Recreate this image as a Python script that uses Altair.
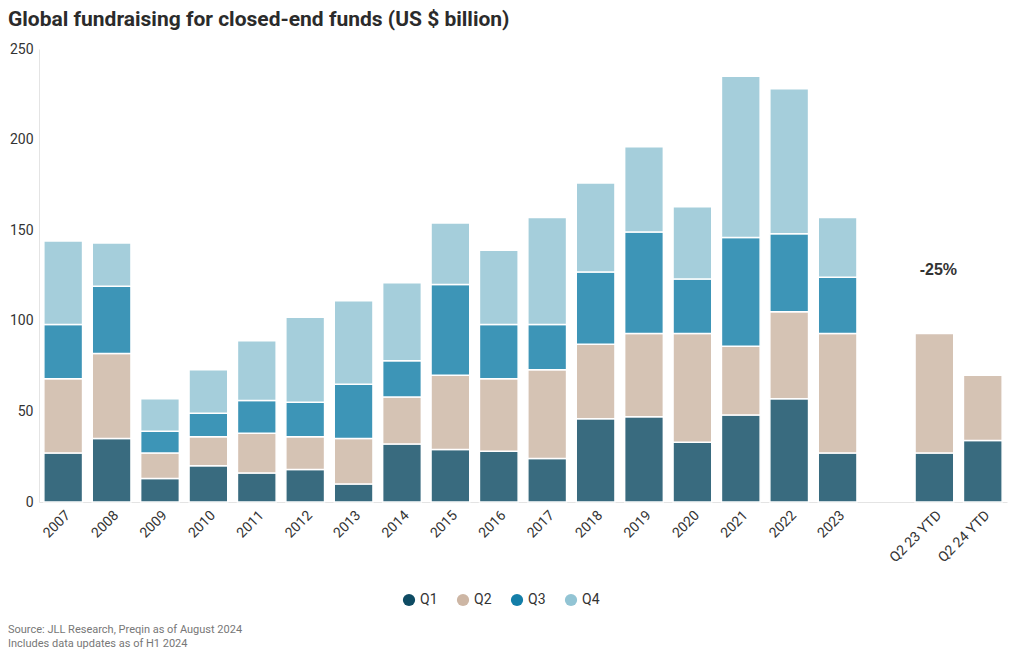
import altair as alt
import pandas as pd

periods = ["2007", "2008", "2009", "2010", "2011", "2012", "2013", "2014", "2015",
           "2016", "2017", "2018", "2019", "2020", "2021", "2022", "2023", " ",
           "Q2 23 YTD", "Q2 24 YTD"]
q1 = [27, 35, 13, 20, 16, 18, 10, 32, 29, 28, 24, 46, 47, 33, 48, 57, 27, None, 27, 34]
q2 = [41, 47, 14, 16, 22, 18, 25, 26, 41, 40, 49, 41, 46, 60, 38, 48, 66, None, 66, 36]
q3 = [30, 37, 12, 13, 18, 19, 30, 20, 50, 30, 25, 40, 56, 30, 60, 43, 31, None, None, None]
q4 = [46, 24, 18, 24, 33, 47, 46, 43, 34, 41, 59, 49, 47, 40, 89, 80, 33, None, None, None]
quarters = ["Q1", "Q2", "Q3", "Q4"]
colors = ["#0e4b63", "#cdb6a4", "#137ea8", "#92c4d4"]

annot_label = ["-25%"]
annot_period = ["Q2 23 YTD"]
annot_value = [128]

footer_lines = ["Source: JLL Research, Preqin as of August 2024",
                "Includes data updates as of H1 2024"]

rows = []
for i, p in enumerate(periods):
    for qi, (q, series) in enumerate(zip(quarters, [q1, q2, q3, q4])):
        v = series[i]
        if v is not None:
            rows.append({"period": p, "quarter": q, "qi": qi, "value": v})
df = pd.DataFrame(rows)

W, H = 968, 453
FONT = "Roboto"

x_enc = alt.X("period:N", sort=periods,
              scale=alt.Scale(domain=periods, paddingInner=0.2, paddingOuter=0.1),
              axis=alt.Axis(title=None, labelAngle=-45, labelFontSize=14, labelColor="#333333",
                            labelFont=FONT, ticks=False, domainColor="#e4e4e4",
                            labelPadding=6))

bars = alt.Chart(df).mark_bar(stroke="white", strokeWidth=1.5, opacity=0.82).encode(
    x=x_enc,
    y=alt.Y("value:Q", stack="zero",
            scale=alt.Scale(domain=[0, 250], nice=False),
            axis=alt.Axis(title=None, values=[0, 50, 100, 150, 200, 250], grid=False,
                          ticks=False, domainColor="#e4e4e4", labelFontSize=14,
                          labelColor="#333333", labelFont=FONT, labelPadding=6)),
    color=alt.Color("quarter:N", scale=alt.Scale(domain=quarters, range=colors),
                    legend=alt.Legend(title=None, orient="none", direction="horizontal",
                                      legendX=363, legendY=544, symbolType="circle",
                                      symbolSize=150, symbolOpacity=1, labelFontSize=14,
                                      labelFont=FONT, labelColor="#333333",
                                      columnPadding=18, symbolStrokeWidth=0)),
    order=alt.Order("qi:Q", sort="ascending"),
)

annot = alt.Chart(pd.DataFrame({"period": annot_period, "value": annot_value,
                                "label": annot_label})).mark_text(
    font="Liberation Sans", fontWeight="bold", fontSize=16, color="#333333", dx=4
).encode(x=alt.X("period:N", sort=periods), y="value:Q", text="label:N")

footer = alt.Chart(pd.DataFrame({"line": ["\n".join(footer_lines)]})).mark_text(
    align="left", baseline="top", font=FONT, fontSize=11, color="#777777",
    lineBreak="\n", lineHeight=14
).encode(
    x=alt.value(-31),
    y=alt.value(H + 122),
    text="line:N",
)

chart = alt.layer(bars, annot, footer).properties(
    width=W, height=H,
    padding={"left": 0, "top": 1, "right": 5, "bottom": 0},
    background="white",
    title=alt.TitleParams("Global fundraising for closed-end funds (US $ billion)",
                          anchor="start", frame="bounds", fontSize=21, font=FONT,
                          fontWeight="bold", color="#2b2b2b", offset=12),
).configure_view(stroke=None)

chart.save("out.html", embed_options={"renderer": "svg", "actions": False})
